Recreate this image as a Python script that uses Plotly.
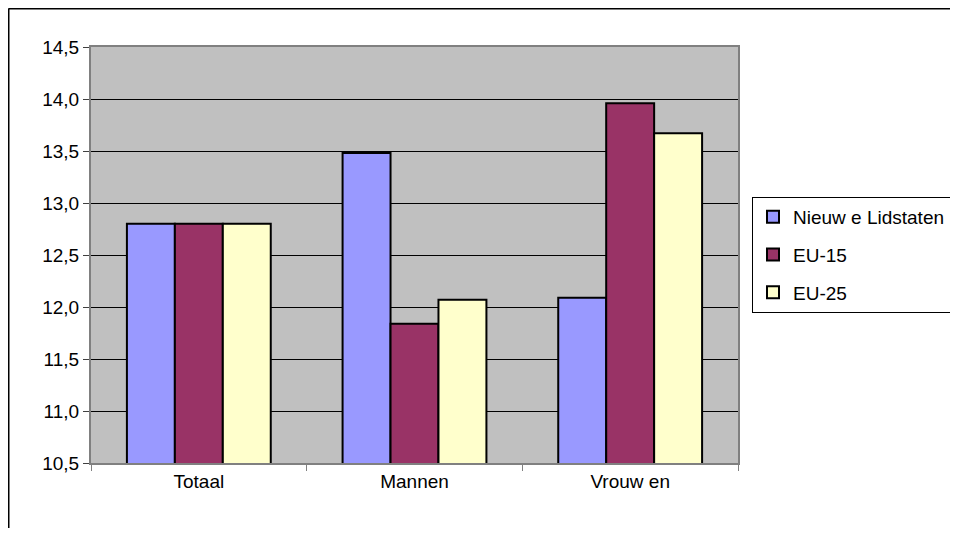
import plotly.graph_objects as go

categories = ["Totaal", "Mannen", "Vrouw en"]
series_names = ["Nieuw e Lidstaten", "EU-15", "EU-25"]
nieuwe = [12.8, 13.48, 12.09]
eu15 = [12.8, 11.84, 13.96]
eu25 = [12.8, 12.07, 13.67]
colors = ["#9999FF", "#993366", "#FFFFCC"]
y_ticks = [10.5, 11.0, 11.5, 12.0, 12.5, 13.0, 13.5, 14.0, 14.5]
y_tick_labels = ["10,5", "11,0", "11,5", "12,0", "12,5", "13,0", "13,5", "14,0", "14,5"]

FONT = "Liberation Sans, Arial, sans-serif"

fig = go.Figure()
for name, vals, col in zip(series_names, [nieuwe, eu15, eu25], colors):
    fig.add_trace(go.Bar(
        x=categories, y=vals, name=name, legendgroup=name,
        marker=dict(color=col, line=dict(color="black", width=2)),
    ))

# page has an 8px body margin; size the figure so no scrollbars appear
OFF = 8
W, H = 958 - 2 * OFF, 536 - 2 * OFF
L, T, R, B = 91 - OFF, 47 - OFF, 738 - OFF, 463 - OFF
pw, ph = R - L, B - T

fig.update_layout(
    width=W, height=H,
    margin=dict(l=L, r=W - R, t=T, b=H - B, pad=0, autoexpand=False),
    paper_bgcolor="white",
    plot_bgcolor="#C0C0C0",
    barmode="group",
    bargap=0.333,
    bargroupgap=0,
    font=dict(family=FONT, size=19, color="black"),
    showlegend=True,
    legend=dict(
        x=(752 - OFF - L) / pw, xanchor="left",
        y=(B - (197 - OFF)) / ph, yanchor="top",
        bordercolor="black", borderwidth=1,
        bgcolor="white",
        font=dict(family=FONT, size=19, color="black"),
        traceorder="grouped",
        tracegroupgap=10,
        itemwidth=30,
    ),
    xaxis=dict(
        type="category",
        tickson="boundaries",
        ticks="outside", ticklen=6, tickcolor="#808080",
        showline=True, linecolor="#808080", linewidth=2,
        mirror=True,
        showgrid=False,
        tickfont=dict(family=FONT, size=19),
    ),
    yaxis=dict(
        range=[10.5, 14.5],
        tickvals=y_ticks, ticktext=y_tick_labels,
        ticks="outside", ticklen=6, tickcolor="#404040",
        showline=True, linecolor="#808080", linewidth=2,
        mirror=True,
        showgrid=True, gridcolor="black", gridwidth=1,
        zeroline=False,
        tickfont=dict(family=FONT, size=19),
    ),
)

# outer chart frame (top and left edges; right/bottom fall outside the view)
fig.add_shape(
    type="line", xref="paper", yref="paper",
    x0=(0.5 - L) / pw, x1=(1000 - L) / pw,
    y0=(B - 0.5) / ph, y1=(B - 0.5) / ph,
    line=dict(color="black", width=2), layer="above",
)
fig.add_shape(
    type="line", xref="paper", yref="paper",
    x0=(0.5 - L) / pw, x1=(0.5 - L) / pw,
    y0=(B - 0.5) / ph, y1=(B - 600) / ph,
    line=dict(color="black", width=2), layer="above",
)

fig.write_html("out.html")
